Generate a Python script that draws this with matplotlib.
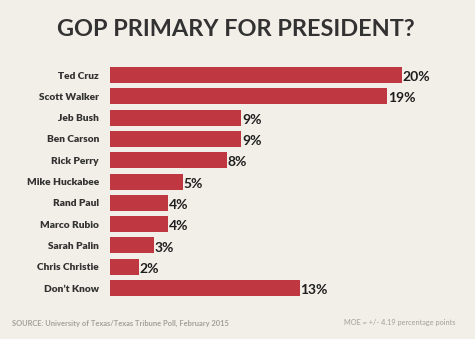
import matplotlib.pyplot as plt

# Texas poll results, February 2015
candidates = ["Ted Cruz", "Scott Walker", "Jeb Bush", "Ben Carson", "Rick Perry",
              "Mike Huckabee", "Rand Paul", "Marco Rubio", "Sarah Palin",
              "Chris Christie", "Don\u2019t Know"]
percent = [20, 19, 9, 9, 8, 5, 4, 4, 3, 2, 13]

BG = "#f2efe8"
RED = "#bf3841"
DARK = "#333232"
FONT = "Lato"

fig = plt.figure(figsize=(4.75, 3.39), dpi=100)
fig.patch.set_facecolor(BG)

ax = fig.add_axes([110 / 475, 0.119, 1 - 110 / 475, 0.691])
ax.set_facecolor(BG)

ypos = list(range(len(candidates)))
ax.barh(ypos, percent, height=0.75, color=RED, edgecolor="none")
ax.set_xlim(0, 25)
ax.set_ylim(len(candidates) - 0.5, -0.5)

for y, v in zip(ypos, percent):
    ax.text(v + 0.05, y + 0.1, f"{v}%", va="center", ha="left",
            fontsize=10, fontweight="bold", color="#1e1e1e", family=FONT)

ax.set_yticks(ypos)
ax.set_yticklabels(candidates, fontsize=7.3, fontweight="heavy", color=DARK,
                   family=FONT)
ax.tick_params(axis="y", length=0, pad=8)
ax.set_xticks([])
for s in ax.spines.values():
    s.set_visible(False)

fig.text(236 / 475, 1 - 29 / 339, "GOP PRIMARY FOR PRESIDENT?", ha="center",
         va="center", fontsize=16.9, fontweight="bold", color=DARK, family=FONT)
fig.text(12 / 475, 1 - 323 / 339,
         "SOURCE: University of Texas/Texas Tribune Poll, February 2015",
         ha="left", va="center", fontsize=5.4, fontweight="bold",
         color="#a3a09b", family=FONT)
fig.text(455 / 475, 1 - 323 / 339, "MOE = +/- 4.19 percentage points",
         ha="right", va="center", fontsize=5.3, color="#a3a09b", family=FONT)

fig.savefig("out.png", dpi=100, facecolor=BG)
